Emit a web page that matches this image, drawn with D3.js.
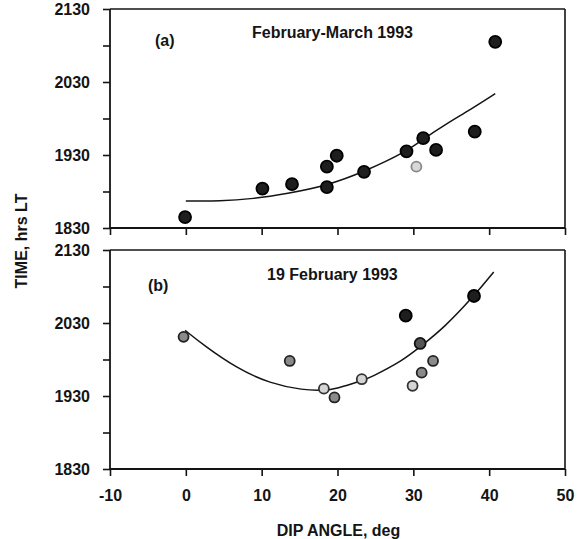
<!DOCTYPE html>
<html><head><meta charset="utf-8">
<script src="https://cdn.jsdelivr.net/npm/d3@7"></script>
<style>
html,body{margin:0;padding:0;background:#fff;}
svg{display:block;font-family:"Liberation Sans",Arial,sans-serif;}
</style></head>
<body><svg id="c" width="587" height="539"></svg>
<script>
// ---- data (dip angle in deg, time in decimal hours LT) ----
const xTicks = [-10, 0, 10, 20, 30, 40, 50];
const timeTickValues = [18.5, 19, 19.5, 20, 20.5, 21, 21.5];
const timeMajor = [18.5, 19.5, 20.5, 21.5];
const timeLabels = ["1830", "1930", "2030", "2130"];

// panel (a) February-March 1993
const aDip  = [-0.1, 10.1, 14.0, 18.6, 18.6, 19.9, 23.5, 29.1, 31.3, 33.0, 30.4, 38.1, 40.8];
const aTime = [18.65, 19.04, 19.10, 19.06, 19.34, 19.49, 19.27, 19.55, 19.73, 19.57, 19.34, 19.82, 21.05];
const aShade = ["dark","dark","dark","dark","dark","dark","dark","dark","dark","dark","faint","dark","dark"];
const aFitDip  = [0, 4.5, 8.9, 13.3, 18.6, 23.5, 29.1, 31.3, 34.4, 37.5, 40.8];
const aFitTime = [18.87, 18.865, 18.90, 18.97, 19.08, 19.27, 19.545, 19.72, 19.93, 20.12, 20.34];

// panel (b) 19 February 1993
const bDip  = [-0.3, 13.7, 18.2, 19.6, 23.2, 29.0, 30.9, 32.6, 31.1, 29.9, 38.0];
const bTime = [20.31, 19.98, 19.60, 19.48, 19.73, 20.60, 20.22, 19.98, 19.82, 19.64, 20.87];
const bShade = ["mid","mid","light","mid","light","dark","darkmid","mid","mid","light","dark"];
const bFitDip  = [-0.1, 2.3, 6.7, 11.1, 15.5, 18.1, 19.9, 23.2, 24.3, 28.7, 30.9, 34.0, 38.0, 40.6];
const bFitTime = [20.40, 20.20, 19.88, 19.67, 19.58, 19.575, 19.60, 19.71, 19.75, 19.99, 20.175, 20.43, 20.87, 21.20];

const panelLabels = ["(a)", "(b)"];
const panelTitles = ["February-March 1993", "19 February 1993"];
const xTitle = "DIP ANGLE, deg";
const yTitle = "TIME, hrs LT";

// ---- drawing ----
const svg = d3.select("#c");
const ink = "#141414";
const FS = 16;
const FW = "bold";
const x = d3.scaleLinear().domain([-10, 50]).range([110, 565]);
const yA = d3.scaleLinear().domain([18.5, 21.5]).range([228, 9]);
const yB = d3.scaleLinear().domain([18.5, 21.5]).range([469, 250]);

const fillScale = d3.scaleOrdinal()
  .domain(["dark","darkmid","mid","light","faint"])
  .range(["#1e1e1e","#555","#8a8a8a","#d4d4d4","#d8d8d8"]);
const strokeScale = d3.scaleOrdinal()
  .domain(["dark","darkmid","mid","light","faint"])
  .range(["#000","#111","#222","#333","#888"]);
const rScale = d3.scaleOrdinal()
  .domain(["dark","darkmid","mid","light","faint"])
  .range([6, 5.5, 5, 5, 5]);

const fmt = v => { const i = timeMajor.indexOf(v); return i >= 0 ? timeLabels[i] : ""; };

function styleText(sel) {
  return sel.attr("fill", ink).style("font-size", FS + "px").style("font-weight", FW)
    .style("font-family", '"Liberation Sans",Arial,sans-serif');
}

function panel(y, dips, times, shades, fitD, fitT, showXLabels, idx, labelPos, titlePos) {
  const g = svg.append("g");
  g.append("line").attr("x1", x(-10)).attr("x2", x(50)).attr("y1", y(21.5)).attr("y2", y(21.5))
    .attr("stroke", ink).attr("stroke-width", 1.6);
  g.append("line").attr("x1", x(50)).attr("x2", x(50)).attr("y1", y(21.5)).attr("y2", y(18.5))
    .attr("stroke", ink).attr("stroke-width", 1.6);

  const ax = d3.axisBottom(x).tickValues(xTicks).tickSize(7).tickPadding(14)
    .tickFormat(showXLabels ? (d => String(d)) : () => "");
  const gx = g.append("g").attr("transform", `translate(0,${y(18.5)})`).call(ax);
  const ay = d3.axisLeft(y).tickValues(timeTickValues).tickSize(7).tickPadding(13).tickFormat(fmt);
  const gy = g.append("g").attr("transform", `translate(${x(-10)},0)`).call(ay);
  [gx, gy].forEach(a => {
    a.select(".domain").attr("stroke", ink).attr("stroke-width", 1.8);
    a.selectAll(".tick line").attr("stroke", ink).attr("stroke-width", 1.6);
    styleText(a.selectAll(".tick text"));
  });
  gx.select(".domain").attr("d", `M${x(-10)},0H${x(50)}`);
  gy.select(".domain").attr("d", `M0,${y(18.5)}V${y(21.5)}`);

  const line = d3.line().x(d => x(d[0])).y(d => y(d[1])).curve(d3.curveBasis);
  g.append("path").datum(fitD.map((d, i) => [d, fitT[i]]))
    .attr("d", line).attr("fill", "none").attr("stroke", ink).attr("stroke-width", 1.5);

  g.selectAll("circle.p").data(dips.map((d, i) => ({d, t: times[i], s: shades[i]})))
    .enter().append("circle")
    .attr("cx", p => x(p.d)).attr("cy", p => y(p.t))
    .attr("r", p => rScale(p.s))
    .attr("fill", p => fillScale(p.s))
    .attr("stroke", p => strokeScale(p.s)).attr("stroke-width", 1.8);

  styleText(g.append("text").attr("x", labelPos[0]).attr("y", labelPos[1])).text(panelLabels[idx]);
  styleText(g.append("text").attr("x", titlePos[0]).attr("y", titlePos[1])).text(panelTitles[idx]);
}

panel(yA, aDip, aTime, aShade, aFitDip, aFitTime, false, 0, [155, 46], [252, 38]);
panel(yB, bDip, bTime, bShade, bFitDip, bFitTime, true, 1, [148, 291], [267, 280]);

styleText(svg.append("text").attr("x", (x(-10) + x(50)) / 2 + 1).attr("y", 536)
  .attr("text-anchor", "middle")).text(xTitle);
styleText(svg.append("text").attr("transform", "translate(27,241) rotate(-90)")
  .attr("text-anchor", "middle")).text(yTitle);
</script>
</body></html>
